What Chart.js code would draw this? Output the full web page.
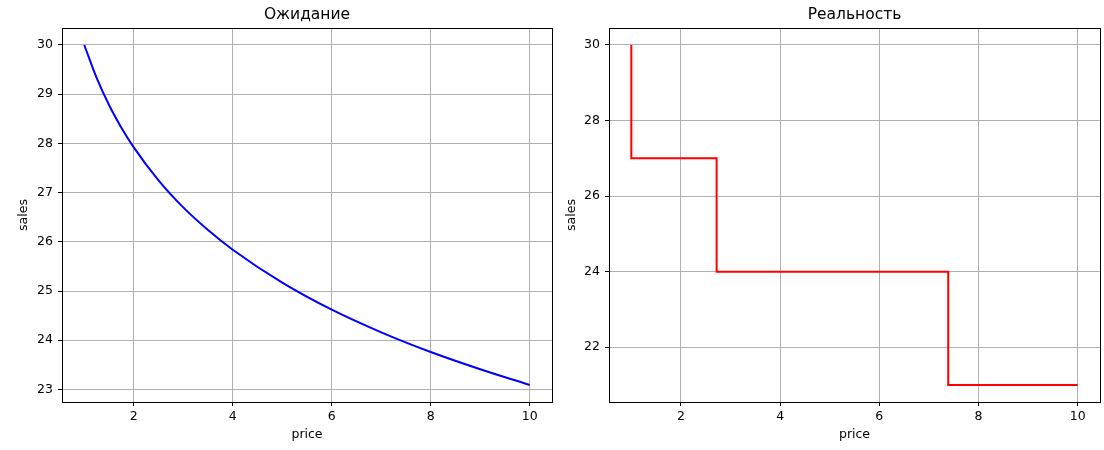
<!DOCTYPE html>
<html>
<head>
<meta charset="utf-8">
<script src="https://cdn.jsdelivr.net/npm/chart.js@4"></script>
<style>
  body { margin: 0; background: #fff; }
  #wrap { position: relative; width: 1104px; height: 450px; }
  canvas { position: absolute; top: 0; }
</style>
</head>
<body>
<div id="wrap">
  <canvas id="expect" width="556" height="450" style="left:0"></canvas>
  <canvas id="real" width="548" height="450" style="left:556px"></canvas>
</div>
<script>
// values
const expPrice = [1, 1.25, 1.5, 1.75, 2, 2.5, 3, 3.5, 4, 5, 6, 7, 8, 9, 10];
const expSales = [30, 29.33, 28.78, 28.32, 27.92, 27.25, 26.70, 26.24, 25.84, 25.17, 24.62, 24.16, 23.76, 23.41, 23.09];

const realPrice = [1, 1, 2.72, 2.72, 7.39, 7.39, 10];
const realSales = [30, 27, 27, 24, 24, 21, 21];

const xTicks = [2, 4, 6, 8, 10];
const expTicks = [23, 24, 25, 26, 27, 28, 29, 30];
const realTicks = [22, 24, 26, 28, 30];

Chart.defaults.font.family = "'DejaVu Sans'";
Chart.defaults.font.size = 12.5;
Chart.defaults.color = "#000";

// box round the plot area, like the axes spines
const frame = {
  id: "frame",
  afterDraw(chart) {
    const a = chart.chartArea;
    const ctx = chart.ctx;
    ctx.save();
    ctx.strokeStyle = "#000";
    ctx.lineWidth = 1;
    ctx.strokeRect(Math.round(a.left) + 0.5, Math.round(a.top) + 0.5,
      Math.round(a.right - a.left), Math.round(a.bottom - a.top));
    ctx.restore();
  }
};

function makeConfig(title, xs, ys, color, smooth, ymin, ymax, yTicks, yWidth, yTitlePad) {
  return {
    type: "line",
    data: {
      datasets: [{
        data: xs.map((x, i) => ({ x: x, y: ys[i] })),
        borderColor: color,
        borderWidth: 2,
        pointRadius: 0,
        cubicInterpolationMode: smooth ? "monotone" : "default",
        tension: 0
      }]
    },
    options: {
      responsive: false,
      animation: false,
      devicePixelRatio: 1,
      layout: { padding: { left: 0, right: 4, top: 0, bottom: 0 } },
      plugins: {
        legend: { display: false },
        tooltip: { enabled: false },
        title: {
          display: true,
          text: title,
          fullSize: false,
          font: { size: 15.5, weight: "normal" },
          padding: { top: 6, bottom: 3.4 }
        }
      },
      scales: {
        x: {
          type: "linear",
          min: 0.55,
          max: 10.45,
          afterBuildTicks: s => { s.ticks = xTicks.map(v => ({ value: v })); },
          afterFit: s => { s.height = 48; },
          grid: { color: "#b0b0b0", lineWidth: 1, tickColor: "#000", tickLength: 4 },
          border: { display: false },
          ticks: { padding: 3, maxRotation: 0 },
          title: { display: true, text: "price", padding: { top: 0, bottom: 8 } }
        },
        y: {
          type: "linear",
          min: ymin,
          max: ymax,
          afterBuildTicks: s => { s.ticks = yTicks.map(v => ({ value: v })); },
          afterFit: s => { s.width = yWidth; },
          grid: { color: "#b0b0b0", lineWidth: 1, tickColor: "#000", tickLength: 4 },
          border: { display: false },
          ticks: { padding: 5 },
          title: { display: true, text: "sales", padding: { top: yTitlePad, bottom: 0 } }
        }
      }
    },
    plugins: [frame]
  };
}

new Chart(document.getElementById("expect"),
  makeConfig("Ожидание", expPrice, expSales, "#0000ff", true, 22.745, 30.345, expTicks, 62, 16));
new Chart(document.getElementById("real"),
  makeConfig("Реальность", realPrice, realSales, "#ff0000", false, 20.55, 30.45, realTicks, 53, 8));
</script>
</body>
</html>
